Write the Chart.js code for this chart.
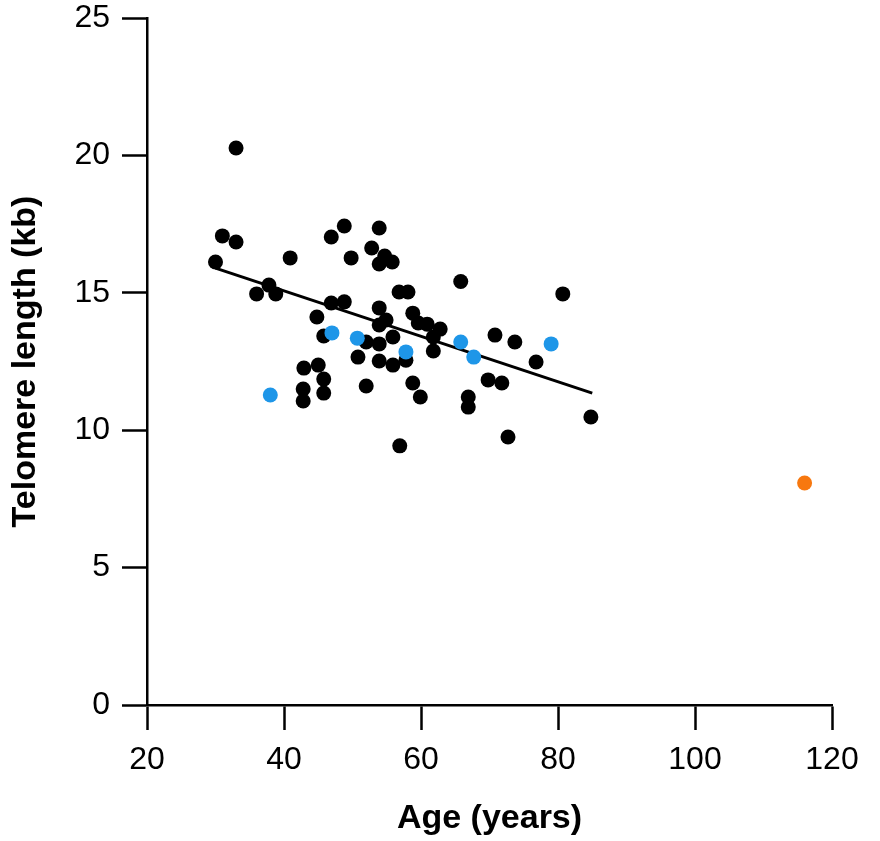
<!DOCTYPE html>
<html>
<head>
<meta charset="utf-8">
<script src="https://cdn.jsdelivr.net/npm/chart.js@4"></script>
<style>
  body { margin: 0; background: #fff; }
  #wrap { width: 880px; height: 841px; position: relative; }
</style>
</head>
<body>
<div id="wrap"><canvas id="telomereChart"></canvas></div>
<script>
// Data
const blackAge = [30, 31, 33, 33, 36, 37.8, 38.8, 40.9, 46.9, 48.8, 53.9, 52.8, 49.8, 54.7, 53.9, 55.8,
    46.9, 48.8, 44.8, 53.9, 54.9, 53.9, 56.8, 58.1, 58.8, 59.6, 60.9, 62.8, 61.8, 61.8, 65.8,
    45.8, 52, 55.9, 53.9, 57.8, 50.8, 53.9, 55.9, 42.9, 45, 45.8, 42.8, 45.8, 42.8, 52, 58.8,
    59.9, 56.9, 66.9, 66.9, 80.7, 70.8, 73.7, 76.8, 69.8, 71.8, 84.8, 72.7];
const blackLength = [16.12, 17.07, 16.85, 20.27, 14.96, 15.28, 14.96, 16.27, 17.03, 17.43, 17.36, 16.63, 16.27, 16.34, 16.05, 16.12,
    14.63, 14.67, 14.12, 14.45, 14.01, 13.83, 15.03, 15.03, 14.26, 13.9, 13.86, 13.68, 13.39, 12.88, 15.41,
    13.43, 13.21, 13.39, 13.14, 12.55, 12.66, 12.52, 12.37, 12.26, 12.37, 11.86, 11.5, 11.35, 11.06, 11.61, 11.72,
    11.21, 9.43, 11.21, 10.84, 14.96, 13.46, 13.21, 12.48, 11.83, 11.72, 10.48, 9.75];

const blueAge = [38, 47, 50.7, 57.8, 65.8, 67.7, 79];
const blueLength = [11.28, 13.54, 13.35, 12.85, 13.21, 12.66, 13.14];

const orangeAge = [116];
const orangeLength = [8.08];

// regression line end points
const trendAge = [30, 85];
const trendLength = [15.9, 11.35];

const xTicks = [20, 40, 60, 80, 100, 120];
const yTicks = [0, 5, 10, 15, 20, 25];

function toPoints(xs, ys) {
    return xs.map((x, i) => ({ x: x, y: ys[i] }));
}

Chart.defaults.font.family = '"Liberation Sans", Arial, Helvetica, sans-serif';
Chart.defaults.color = '#000';

const ctx = document.getElementById('telomereChart').getContext('2d');
const chart = new Chart(ctx, {
    type: 'scatter',
    data: {
        datasets: [
            {
                type: 'line',
                data: toPoints(trendAge, trendLength),
                borderColor: '#000',
                borderWidth: 3,
                pointRadius: 0,
                fill: false,
                order: 3
            },
            {
                data: toPoints(blackAge, blackLength),
                backgroundColor: '#000',
                borderWidth: 0,
                pointRadius: 7.5,
                order: 2
            },
            {
                data: toPoints(blueAge, blueLength),
                backgroundColor: '#1e96e8',
                borderWidth: 0,
                pointRadius: 7.5,
                order: 1
            },
            {
                data: toPoints(orangeAge, orangeLength),
                backgroundColor: '#f7780f',
                borderWidth: 0,
                pointRadius: 7.5,
                order: 1
            }
        ]
    },
    options: {
        responsive: true,
        maintainAspectRatio: false,
        animation: false,
        layout: {
            padding: { top: 18, right: 48, left: 0, bottom: 0 }
        },
        plugins: {
            legend: { display: false },
            tooltip: { enabled: false }
        },
        scales: {
            x: {
                type: 'linear',
                min: xTicks[0],
                max: xTicks[xTicks.length - 1],
                afterBuildTicks: function(scale) {
                    scale.ticks = xTicks.map(v => ({ value: v }));
                },
                ticks: {
                    color: '#000',
                    font: { size: 32 },
                    padding: 11,
                    maxRotation: 0
                },
                grid: {
                    drawOnChartArea: false,
                    drawTicks: true,
                    tickLength: 25,
                    tickWidth: 2.5,
                    tickColor: '#000'
                },
                border: { color: '#000', width: 2.5 },
                title: {
                    display: true,
                    text: 'Age (years)',
                    color: '#000',
                    font: { size: 34, weight: 'bold' },
                    padding: { top: 0, bottom: 2 }
                },
                afterFit: function(scale) {
                    scale.height = 136;
                }
            },
            y: {
                type: 'linear',
                min: yTicks[0],
                max: yTicks[yTicks.length - 1],
                afterBuildTicks: function(scale) {
                    scale.ticks = yTicks.map(v => ({ value: v }));
                },
                ticks: {
                    color: '#000',
                    font: { size: 32 },
                    padding: 12
                },
                grid: {
                    drawOnChartArea: false,
                    drawTicks: true,
                    tickLength: 25,
                    tickWidth: 2.5,
                    tickColor: '#000'
                },
                border: { color: '#000', width: 2.5 },
                title: {
                    display: true,
                    text: 'Telomere length (kb)',
                    color: '#000',
                    font: { size: 34, weight: 'bold' },
                    padding: { top: 5, bottom: 0 }
                },
                afterFit: function(scale) {
                    scale.width = 147;
                    // let the top label hang into the layout padding
                    scale.paddingTop = 0;
                }
            }
        }
    }
});
</script>
</body>
</html>
